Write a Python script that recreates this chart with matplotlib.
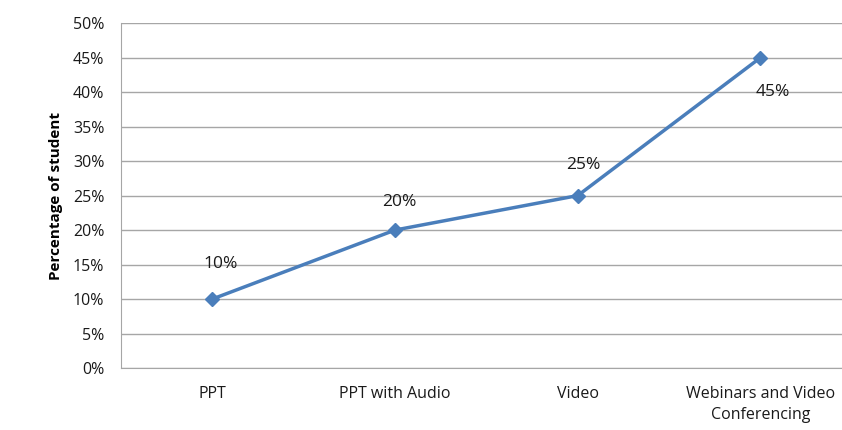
import matplotlib.pyplot as plt
from matplotlib.ticker import PercentFormatter

# categories and values
methods = ["PPT", "PPT with Audio", "Video", "Webinars and Video\nConferencing"]
share = [10, 20, 25, 45]
# label offsets in points (above, above, above, below)
label_dy = [25, 20, 22, -25]
label_dx = [6, 3, 4, 9]

plt.rcParams['font.family'] = ['Open Sans', 'DejaVu Sans']

fig = plt.figure(figsize=(8.42, 4.3), dpi=100)
ax = fig.add_axes([0.1437, 0.1442, 0.868, 0.802])

x = [i + 0.5 for i in range(len(methods))]
ax.plot(x, share, color="#4A7EBB", linewidth=2.5, marker="D", markersize=7, zorder=3)

for xi, v, dx, dy in zip(x, share, label_dx, label_dy):
    ax.annotate(f"{v}%", (xi, v), xytext=(dx, dy), textcoords="offset points",
                ha="center", va="center", fontsize=12.5, color="#1a1a1a")

ax.set_xlim(0, len(methods))
ax.set_ylim(0, 50)
ax.set_yticks(range(0, 51, 5))
ax.yaxis.set_major_formatter(PercentFormatter(decimals=0))
ax.set_xticks(x)
ax.set_xticklabels(methods, fontsize=11.5, color="#1a1a1a")
ax.tick_params(axis="y", labelsize=11.5, colors="#1a1a1a", length=0, pad=12)
ax.tick_params(axis="x", length=0, pad=13)
for lab in ax.get_xticklabels():
    lab.set_linespacing(1.4)

ax.grid(axis="y", color="#A6A6A6", linewidth=1)
ax.set_axisbelow(True)
for side in ["top", "right"]:
    ax.spines[side].set_visible(False)
ax.spines["left"].set_color("#A6A6A6")
ax.spines["bottom"].set_color("#A6A6A6")

ax.set_ylabel("Percentage of student", fontsize=11, fontweight="bold", labelpad=7)

fig.savefig("out.png", dpi=100)
